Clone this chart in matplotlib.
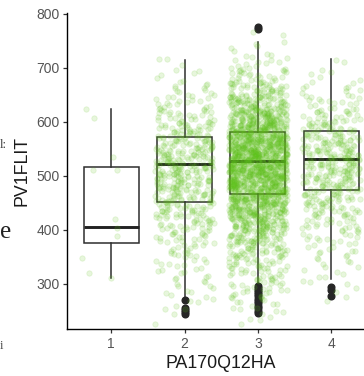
import numpy as np
import matplotlib
matplotlib.use("Agg")
import matplotlib.pyplot as plt

# ---------------- data ----------------
categories = ["1", "2", "3", "4"]
y_ticks = [300, 400, 500, 600, 700, 800]

# boxplot statistics per group
box_q1 = [376, 452, 466, 474]
box_med = [406, 522, 528, 532]
box_q3 = [517, 572, 581, 584]
whisk_lo = [312, 276, 298, 309]
whisk_hi = [624, 715, 749, 716]
outliers = [
    [],
    [270, 256, 252, 248, 245],
    [775, 772, 296, 292, 288, 285, 281, 277, 273, 268, 264, 259, 255, 250, 246],
    [294, 289, 277],
]

# group 1 individual points (value, horizontal jitter in category units)
g1_values = [624, 607, 535, 511, 511, 420, 404, 388, 348, 320, 312]
g1_jitter = [-0.34, -0.23, 0.02, -0.25, 0.08, 0.05, 0.08, 0.08, -0.40, -0.30, 0.0]

# groups 2-4: estimated point counts per 25-unit bin, starting at 225
bin_start = 225
bin_width = 25
g2_counts = [2, 6, 8, 10, 12, 16, 22, 30, 38, 46, 52, 55, 52, 45, 36, 26, 18, 11, 6, 3]
g3_counts = [6, 12, 18, 24, 32, 45, 62, 90, 120, 150, 175, 190, 190, 175, 145, 110,
             75, 45, 26, 13, 6, 2]
g4_counts = [0, 1, 4, 6, 8, 11, 15, 22, 30, 38, 45, 50, 50, 44, 35, 25, 16, 10, 5, 2]

# ---------------- figure ----------------
W, H = 364, 376
fig = plt.figure(figsize=(W / 100, H / 100), dpi=100)
fig.patch.set_facecolor("white")

x_left, x_right = 67.2, 375.2
y_top, y_bot = 12.7, 329.3
ax = fig.add_axes([x_left / W, (H - y_bot) / H, (x_right - x_left) / W, (y_bot - y_top) / H])
ax.set_xlim(0.4, 4.6)
ax.set_ylim(216.1, 802.4)
ax.set_facecolor("white")

# boxplots
stats = []
for i in range(4):
    stats.append(dict(med=box_med[i], q1=box_q1[i], q3=box_q3[i],
                      whislo=whisk_lo[i], whishi=whisk_hi[i], fliers=outliers[i]))
line_col = "#2e2e2e"
ax.bxp(stats, positions=[1, 2, 3, 4], widths=0.75, showcaps=False, patch_artist=True,
       boxprops=dict(facecolor="white", edgecolor=line_col, linewidth=1.1),
       whiskerprops=dict(color=line_col, linewidth=1.1),
       medianprops=dict(color="#222222", linewidth=2.1),
       flierprops=dict(marker="o", markerfacecolor="#262626", markeredgecolor="#262626",
                       markersize=4.8, linestyle="none"),
       zorder=2)

# jittered points: each point is a quantile of the binned distribution read
# from the picture; horizontal jitter from a quadratic Weyl sequence
xs, ys = [], []
for v, j in zip(g1_values, g1_jitter):
    xs.append(1 + j)
    ys.append(v)
for gi, (pos, counts) in enumerate(zip([2, 3, 4], [g2_counts, g3_counts, g4_counts])):
    counts = np.asarray(counts, dtype=float)
    edges = bin_start + bin_width * np.arange(len(counts) + 1)
    cum = np.concatenate([[0], np.cumsum(counts)])
    n = int(cum[-1])
    k = np.arange(n)
    off = (k * k * 0.4142135623730951 + k * 0.1234 + gi * 0.37) % 1.0
    q = (k + off)
    yy = np.interp(q, cum, edges)
    jx = (k * k * 0.7548776662466927 + k * 0.5698402909980532 + gi * 0.21) % 1.0
    xs.extend(pos + 0.8 * (jx - 0.5))
    ys.extend(yy)
green = "#5fc31a"
ax.scatter(xs, ys, s=15, color=green, alpha=0.15, edgecolors=green, linewidths=0.6, zorder=3)

# axes styling (theme_classic-like)
for s in ["top", "right"]:
    ax.spines[s].set_visible(False)
for s in ["left", "bottom"]:
    ax.spines[s].set_linewidth(1.0)
    ax.spines[s].set_color("black")
ax.set_xticks([1, 2, 3, 4])
ax.set_xticklabels(categories)
ax.set_yticks(y_ticks)
ax.set_yticklabels([str(t) for t in y_ticks])
ax.tick_params(axis="both", length=2.6, width=0.9, color="#333333",
               labelcolor="#555555", labelsize=10)
ax.tick_params(axis="y", pad=3)
ax.tick_params(axis="x", pad=3)
for lab in ax.get_xticklabels() + ax.get_yticklabels():
    lab.set_fontfamily("Liberation Sans")

ax.set_xlabel("PA170Q12HA", fontsize=12.8, family="Liberation Sans", color="#1a1a1a", labelpad=3)
ax.set_ylabel("PV1FLIT", fontsize=12.8, family="Liberation Sans", color="#1a1a1a", labelpad=4)

# fragments of surrounding document text at the left edge
fig.text(0.0 / W, 1 - 148 / H, "l:", fontsize=9, family="Liberation Serif", color="#333333")
fig.text(0.0 / W, 1 - 238 / H, "e", fontsize=18, family="Liberation Serif", color="#222222")
fig.text(0.0 / W, 1 - 349 / H, "i", fontsize=9, family="Liberation Serif", color="#444444")

fig.savefig("out.png", dpi=100, facecolor="white")
